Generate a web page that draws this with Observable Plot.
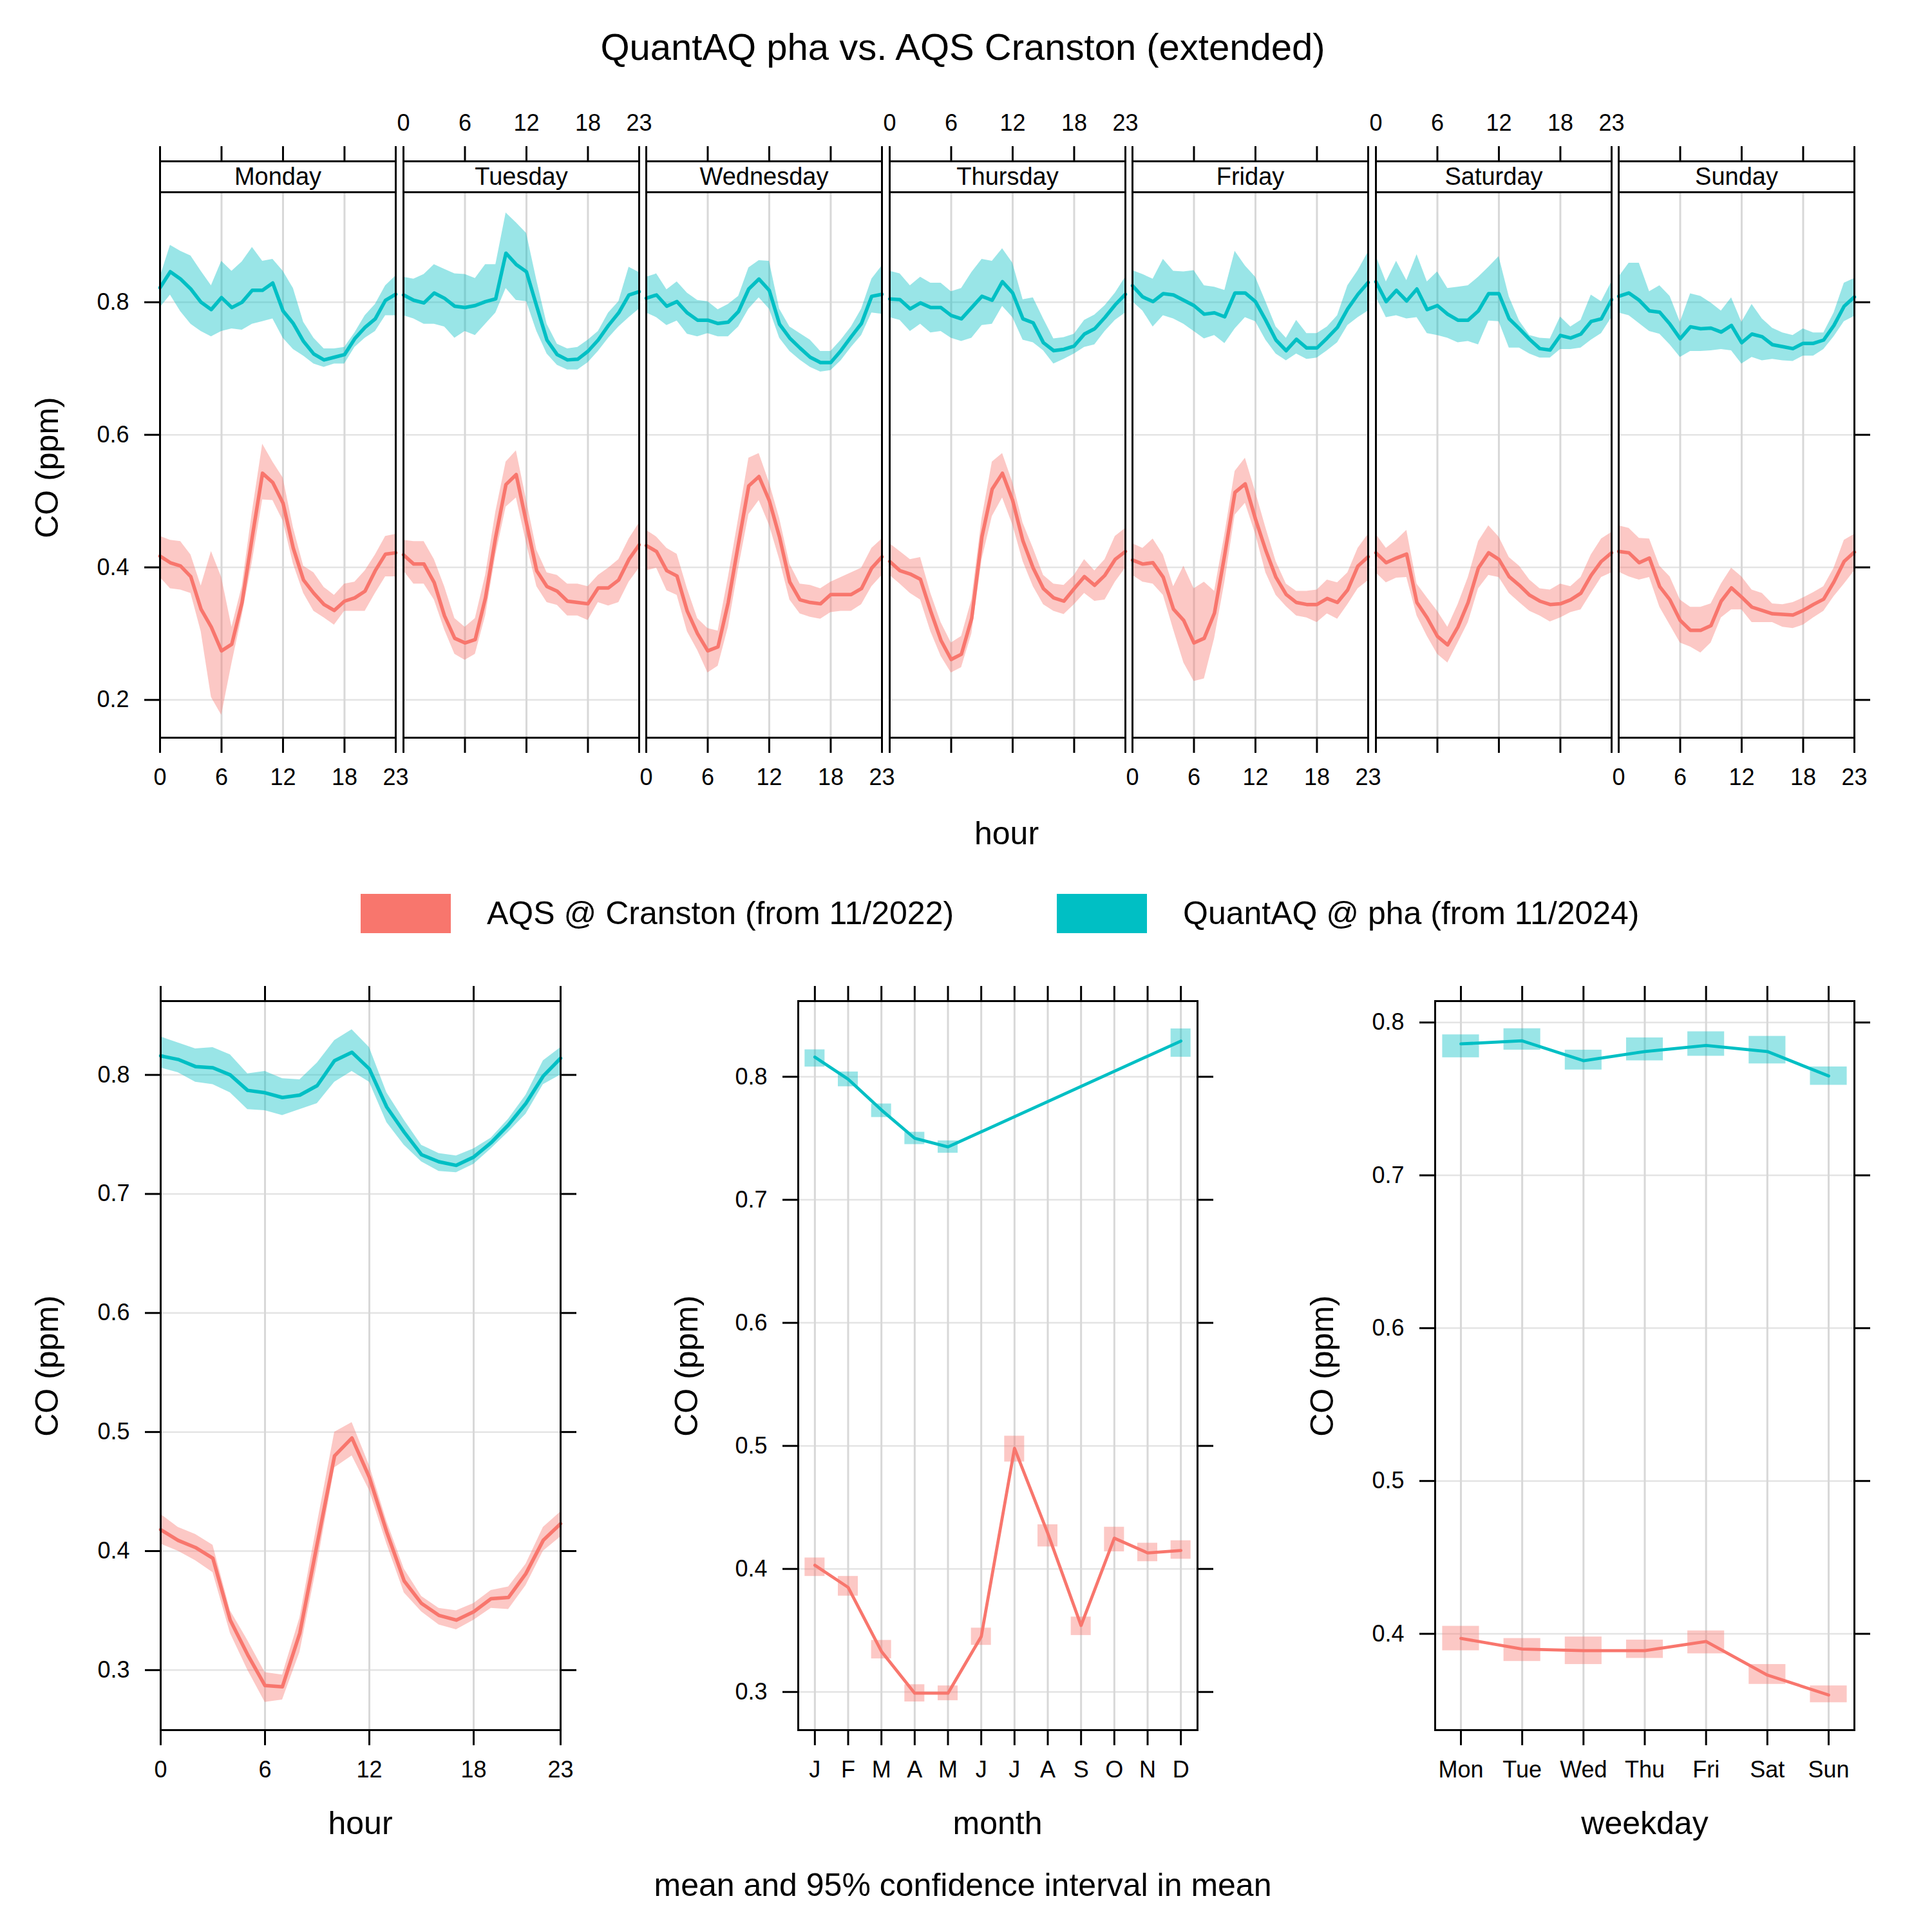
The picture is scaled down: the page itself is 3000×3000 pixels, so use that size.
<!DOCTYPE html>
<html>
<head>
<meta charset="utf-8">
<script src="https://cdn.jsdelivr.net/npm/d3@7"></script>
<script src="https://cdn.jsdelivr.net/npm/@observablehq/plot@0.6"></script>
<style>
  html, body { margin: 0; padding: 0; background: #ffffff; }
  #fig { position: relative; width: 3000px; height: 3000px; background: #ffffff; color: #000;
         font-family: "Liberation Sans", Arial, Helvetica, sans-serif; overflow: hidden; }
</style>
</head>
<body>
<div id="fig"></div>
<script>
// ---------------- DATA ----------------
const seriesNames = ["AQS @ Cranston (from 11/2022)", "QuantAQ @ pha (from 11/2024)"];
const titleText = "QuantAQ pha vs. AQS Cranston (extended)";
const captionText = "mean and 95% confidence interval in mean";
const dayNames = ["Monday", "Tuesday", "Wednesday", "Thursday", "Friday", "Saturday", "Sunday"];
const hours = [0,1,2,3,4,5,6,7,8,9,10,11,12,13,14,15,16,17,18,19,20,21,22,23];
const hourTicks = [0, 6, 12, 18, 23];
const hourGrid = [6, 12, 18];
const topYTicks = [0.2, 0.4, 0.6, 0.8];
const hourYTicks = [0.3, 0.4, 0.5, 0.6, 0.7, 0.8];
const monthYTicks = [0.3, 0.4, 0.5, 0.6, 0.7, 0.8];
const weekdayYTicks = [0.4, 0.5, 0.6, 0.7, 0.8];
const months = [1,2,3,4,5,6,7,8,9,10,11,12];
const monthLabels = ["J","F","M","A","M","J","J","A","S","O","N","D"];
const qaqMonths = [1,2,3,4,5,12];
const weekdays = [1,2,3,4,5,6,7];
const weekdayLabels = ["Mon","Tue","Wed","Thu","Fri","Sat","Sun"];

// Day x hour: AQS (red)
const aqsMonMean = [0.417,0.407,0.402,0.386,0.337,0.310,0.274,0.284,0.347,0.446,0.542,0.528,0.497,0.429,0.381,0.361,0.344,0.335,0.349,0.354,0.364,0.395,0.420,0.422];
const aqsMonHi   = [0.447,0.441,0.439,0.419,0.372,0.424,0.385,0.310,0.371,0.484,0.586,0.559,0.535,0.460,0.402,0.392,0.370,0.358,0.375,0.378,0.395,0.419,0.447,0.450];
const aqsMonLo   = [0.385,0.368,0.366,0.361,0.303,0.204,0.177,0.255,0.327,0.409,0.502,0.501,0.470,0.405,0.361,0.334,0.324,0.313,0.334,0.334,0.334,0.361,0.386,0.386];
const aqsTueMean = [0.419,0.405,0.405,0.377,0.327,0.293,0.286,0.291,0.354,0.446,0.525,0.540,0.467,0.395,0.371,0.364,0.349,0.347,0.345,0.369,0.369,0.381,0.412,0.434];
const aqsTueHi   = [0.441,0.439,0.439,0.412,0.371,0.323,0.310,0.323,0.388,0.484,0.559,0.576,0.501,0.426,0.392,0.388,0.375,0.375,0.371,0.388,0.399,0.412,0.443,0.467];
const aqsTueLo   = [0.395,0.375,0.375,0.351,0.306,0.269,0.260,0.269,0.327,0.419,0.491,0.505,0.436,0.371,0.347,0.343,0.327,0.327,0.320,0.347,0.342,0.347,0.378,0.399];
const aqsWedMean = [0.433,0.424,0.395,0.387,0.334,0.300,0.274,0.280,0.347,0.436,0.523,0.537,0.501,0.446,0.378,0.351,0.347,0.345,0.359,0.359,0.359,0.368,0.399,0.416];
const aqsWedHi   = [0.456,0.446,0.429,0.420,0.368,0.323,0.308,0.304,0.385,0.474,0.565,0.572,0.528,0.474,0.405,0.375,0.373,0.368,0.378,0.385,0.392,0.399,0.429,0.443];
const aqsWedLo   = [0.395,0.399,0.365,0.358,0.303,0.275,0.241,0.251,0.310,0.399,0.480,0.501,0.464,0.412,0.351,0.330,0.325,0.322,0.332,0.334,0.334,0.344,0.371,0.388];
const aqsThuMean = [0.409,0.395,0.390,0.382,0.334,0.290,0.261,0.269,0.323,0.446,0.518,0.542,0.501,0.440,0.399,0.368,0.354,0.349,0.368,0.386,0.373,0.388,0.412,0.424];
const aqsThuHi   = [0.436,0.424,0.412,0.415,0.361,0.317,0.286,0.296,0.351,0.474,0.559,0.572,0.528,0.467,0.429,0.388,0.375,0.373,0.388,0.412,0.395,0.412,0.447,0.459];
const aqsThuLo   = [0.388,0.375,0.361,0.351,0.303,0.266,0.241,0.249,0.300,0.412,0.477,0.505,0.464,0.409,0.371,0.344,0.334,0.329,0.344,0.361,0.349,0.351,0.378,0.399];
const aqsFriMean = [0.411,0.405,0.407,0.385,0.337,0.320,0.286,0.293,0.331,0.419,0.513,0.526,0.473,0.426,0.385,0.359,0.347,0.344,0.344,0.353,0.347,0.366,0.402,0.416];
const aqsFriHi   = [0.436,0.429,0.443,0.419,0.371,0.402,0.368,0.378,0.364,0.450,0.545,0.565,0.514,0.460,0.409,0.375,0.364,0.364,0.366,0.381,0.377,0.392,0.429,0.450];
const aqsFriLo   = [0.388,0.378,0.375,0.358,0.306,0.256,0.228,0.232,0.293,0.378,0.479,0.497,0.450,0.392,0.358,0.341,0.327,0.324,0.317,0.330,0.322,0.344,0.368,0.380];
const aqsSatMean = [0.422,0.407,0.414,0.420,0.347,0.324,0.296,0.283,0.310,0.347,0.399,0.422,0.412,0.386,0.373,0.358,0.349,0.344,0.345,0.351,0.361,0.388,0.409,0.422];
const aqsSatHi   = [0.450,0.429,0.441,0.456,0.375,0.354,0.334,0.310,0.344,0.385,0.439,0.463,0.446,0.415,0.402,0.381,0.368,0.366,0.375,0.371,0.385,0.419,0.443,0.453];
const aqsSatLo   = [0.392,0.377,0.384,0.385,0.327,0.296,0.269,0.256,0.286,0.317,0.368,0.388,0.385,0.361,0.347,0.334,0.327,0.318,0.324,0.332,0.336,0.361,0.385,0.392];
const aqsSunMean = [0.424,0.422,0.407,0.414,0.371,0.351,0.320,0.305,0.305,0.312,0.349,0.369,0.355,0.340,0.335,0.330,0.329,0.328,0.335,0.344,0.352,0.378,0.409,0.423];
const aqsSunHi   = [0.463,0.459,0.444,0.443,0.402,0.386,0.351,0.340,0.340,0.345,0.375,0.399,0.386,0.366,0.361,0.345,0.344,0.347,0.354,0.362,0.371,0.399,0.441,0.450];
const aqsSunLo   = [0.393,0.386,0.381,0.385,0.340,0.313,0.286,0.280,0.271,0.286,0.324,0.336,0.336,0.317,0.317,0.317,0.310,0.308,0.313,0.324,0.334,0.356,0.375,0.395];

// Day x hour: QuantAQ (teal)
const qaqMonMean = [0.822,0.846,0.835,0.820,0.800,0.789,0.807,0.792,0.800,0.818,0.818,0.829,0.787,0.768,0.741,0.722,0.713,0.717,0.721,0.745,0.762,0.775,0.803,0.812];
const qaqMonHi   = [0.838,0.886,0.877,0.870,0.847,0.825,0.862,0.847,0.861,0.883,0.862,0.865,0.847,0.821,0.770,0.746,0.730,0.730,0.732,0.754,0.780,0.797,0.825,0.840];
const qaqMonLo   = [0.792,0.811,0.786,0.767,0.756,0.748,0.756,0.760,0.758,0.767,0.771,0.775,0.746,0.729,0.719,0.707,0.702,0.707,0.707,0.732,0.746,0.756,0.780,0.780];
const qaqTueMean = [0.811,0.803,0.799,0.814,0.806,0.794,0.792,0.795,0.801,0.805,0.874,0.857,0.846,0.794,0.743,0.721,0.713,0.714,0.726,0.743,0.765,0.784,0.811,0.816];
const qaqTueHi   = [0.838,0.835,0.842,0.857,0.850,0.843,0.842,0.836,0.857,0.857,0.935,0.920,0.904,0.833,0.767,0.737,0.730,0.732,0.743,0.756,0.784,0.801,0.853,0.845];
const qaqTueLo   = [0.780,0.775,0.767,0.767,0.763,0.746,0.756,0.750,0.767,0.784,0.821,0.803,0.801,0.756,0.722,0.705,0.698,0.698,0.709,0.726,0.746,0.763,0.777,0.790];
const qaqWedMean = [0.806,0.811,0.794,0.801,0.784,0.773,0.773,0.768,0.770,0.786,0.820,0.835,0.818,0.767,0.746,0.731,0.717,0.709,0.709,0.727,0.748,0.768,0.809,0.812];
const qaqWedHi   = [0.838,0.843,0.819,0.831,0.814,0.803,0.801,0.789,0.797,0.809,0.852,0.863,0.862,0.790,0.763,0.753,0.743,0.726,0.726,0.743,0.763,0.790,0.835,0.855];
const qaqWedLo   = [0.784,0.777,0.765,0.772,0.752,0.748,0.753,0.748,0.748,0.763,0.790,0.807,0.790,0.746,0.726,0.713,0.702,0.695,0.697,0.712,0.732,0.750,0.784,0.782];
const qaqThuMean = [0.805,0.804,0.790,0.799,0.792,0.792,0.780,0.775,0.792,0.809,0.803,0.831,0.814,0.775,0.769,0.739,0.727,0.729,0.734,0.752,0.760,0.777,0.796,0.812];
const qaqThuHi   = [0.847,0.843,0.825,0.838,0.829,0.829,0.816,0.821,0.845,0.865,0.862,0.881,0.859,0.804,0.807,0.775,0.745,0.747,0.752,0.773,0.781,0.795,0.814,0.838];
const qaqThuLo   = [0.777,0.773,0.756,0.767,0.754,0.756,0.746,0.741,0.746,0.765,0.767,0.794,0.777,0.743,0.739,0.727,0.707,0.714,0.722,0.732,0.736,0.756,0.773,0.784];
const qaqFriMean = [0.825,0.808,0.801,0.813,0.811,0.803,0.795,0.782,0.784,0.778,0.814,0.814,0.801,0.773,0.743,0.727,0.744,0.731,0.731,0.746,0.762,0.790,0.812,0.830];
const qaqFriHi   = [0.848,0.842,0.835,0.865,0.847,0.846,0.848,0.825,0.823,0.818,0.877,0.855,0.838,0.801,0.763,0.746,0.773,0.753,0.753,0.763,0.780,0.825,0.848,0.876];
const qaqFriLo   = [0.801,0.787,0.763,0.780,0.775,0.767,0.756,0.745,0.750,0.738,0.760,0.777,0.771,0.743,0.722,0.712,0.722,0.714,0.716,0.727,0.739,0.765,0.777,0.787];
const qaqSatMean = [0.831,0.801,0.818,0.802,0.820,0.789,0.795,0.782,0.773,0.773,0.787,0.813,0.813,0.775,0.760,0.744,0.730,0.728,0.750,0.746,0.752,0.771,0.775,0.804];
const qaqSatHi   = [0.870,0.831,0.862,0.833,0.872,0.831,0.846,0.821,0.823,0.825,0.838,0.853,0.869,0.808,0.772,0.750,0.746,0.745,0.778,0.763,0.773,0.811,0.801,0.831];
const qaqSatLo   = [0.808,0.777,0.780,0.775,0.777,0.753,0.750,0.746,0.739,0.741,0.736,0.772,0.771,0.731,0.731,0.722,0.716,0.716,0.729,0.729,0.731,0.743,0.753,0.777];
const qaqSunMean = [0.809,0.814,0.803,0.787,0.785,0.767,0.745,0.763,0.760,0.761,0.755,0.765,0.739,0.752,0.748,0.736,0.733,0.730,0.738,0.738,0.743,0.765,0.794,0.808];
const qaqSunHi   = [0.838,0.859,0.859,0.816,0.825,0.809,0.770,0.813,0.809,0.799,0.787,0.807,0.770,0.797,0.775,0.761,0.754,0.750,0.760,0.754,0.754,0.784,0.829,0.836];
const qaqSunLo   = [0.784,0.780,0.768,0.756,0.752,0.736,0.717,0.726,0.726,0.727,0.729,0.727,0.707,0.717,0.712,0.714,0.712,0.711,0.719,0.719,0.729,0.748,0.771,0.779];

// Hour (all days)
const aqsHourMean = [0.418,0.409,0.403,0.394,0.342,0.313,0.287,0.286,0.331,0.406,0.480,0.495,0.462,0.416,0.375,0.356,0.346,0.342,0.349,0.360,0.361,0.381,0.409,0.423];
const aqsHourHi   = [0.431,0.420,0.414,0.405,0.350,0.325,0.298,0.296,0.344,0.423,0.500,0.508,0.472,0.425,0.385,0.362,0.352,0.350,0.356,0.367,0.370,0.389,0.420,0.433];
const aqsHourLo   = [0.406,0.400,0.392,0.382,0.331,0.300,0.273,0.275,0.315,0.389,0.470,0.480,0.451,0.406,0.365,0.349,0.338,0.334,0.342,0.352,0.351,0.371,0.400,0.412];
const qaqHourMean = [0.816,0.813,0.807,0.806,0.800,0.787,0.785,0.781,0.783,0.791,0.812,0.819,0.805,0.773,0.752,0.733,0.727,0.724,0.731,0.743,0.758,0.776,0.799,0.814];
const qaqHourHi   = [0.832,0.827,0.822,0.823,0.817,0.801,0.803,0.797,0.796,0.810,0.829,0.838,0.823,0.785,0.762,0.741,0.734,0.732,0.738,0.747,0.763,0.783,0.812,0.823];
const qaqHourLo   = [0.806,0.802,0.794,0.792,0.785,0.771,0.770,0.766,0.771,0.776,0.794,0.803,0.794,0.760,0.741,0.727,0.719,0.718,0.725,0.738,0.752,0.767,0.792,0.800];

// Month
const aqsMonthMean = [0.403,0.385,0.333,0.299,0.299,0.345,0.498,0.429,0.354,0.425,0.413,0.415];
const aqsMonthHi   = [0.409,0.394,0.342,0.306,0.305,0.352,0.508,0.436,0.361,0.434,0.421,0.423];
const aqsMonthLo   = [0.394,0.378,0.327,0.292,0.293,0.338,0.487,0.418,0.346,0.414,0.406,0.408];
const qaqMonthMean = [0.816,0.798,0.773,0.750,0.743,0.829];
const qaqMonthHi   = [0.822,0.804,0.778,0.755,0.748,0.839];
const qaqMonthLo   = [0.808,0.792,0.767,0.745,0.738,0.816];

// Weekday
const aqsWdayMean = [0.397,0.390,0.389,0.389,0.395,0.373,0.360];
const aqsWdayHi   = [0.405,0.397,0.398,0.396,0.402,0.380,0.366];
const aqsWdayLo   = [0.389,0.382,0.380,0.384,0.387,0.367,0.355];
const qaqWdayMean = [0.786,0.788,0.775,0.781,0.785,0.781,0.765];
const qaqWdayHi   = [0.792,0.796,0.782,0.790,0.794,0.791,0.771];
const qaqWdayLo   = [0.777,0.782,0.769,0.775,0.778,0.773,0.759];

const aqsDays = [
  [aqsMonMean, aqsMonLo, aqsMonHi], [aqsTueMean, aqsTueLo, aqsTueHi], [aqsWedMean, aqsWedLo, aqsWedHi],
  [aqsThuMean, aqsThuLo, aqsThuHi], [aqsFriMean, aqsFriLo, aqsFriHi], [aqsSatMean, aqsSatLo, aqsSatHi],
  [aqsSunMean, aqsSunLo, aqsSunHi]];
const qaqDays = [
  [qaqMonMean, qaqMonLo, qaqMonHi], [qaqTueMean, qaqTueLo, qaqTueHi], [qaqWedMean, qaqWedLo, qaqWedHi],
  [qaqThuMean, qaqThuLo, qaqThuHi], [qaqFriMean, qaqFriLo, qaqFriHi], [qaqSatMean, qaqSatLo, qaqSatHi],
  [qaqSunMean, qaqSunLo, qaqSunHi]];

// ---------------- STYLE / LAYOUT ----------------
const RED = "#F8766D", TEAL = "#00BFC4";
const FONT = '"Liberation Sans", Arial, Helvetica, sans-serif';
const fig = document.getElementById("fig");
const fmt1 = d3.format(".1f");
const axisOpts = {tickSize: 24, tickPadding: 24, strokeWidth: 3, fontSize: 36, label: null};
const hGridStyle = {stroke: "#e4e4e4", strokeWidth: 2.5};
const vGridStyle = {stroke: "#d8d8d8", strokeWidth: 3};
const svgStyle = {background: "transparent", overflow: "visible", fontFamily: FONT, fontSize: "36px", color: "black"};

function rows(mean, lo, hi, xs) {
  return xs.map((x, k) => ({x, mean: mean[k], lo: lo[k], hi: hi[k]}));
}
function put(svg, left, top) {
  svg.style.position = "absolute";
  svg.style.left = left + "px";
  svg.style.top = top + "px";
  svg.style.maxWidth = "none";
  svg.style.overflow = "visible";
  svg.style.background = "transparent";
  fig.appendChild(svg);
}
function label(text, x, y, size, rotate) {
  const d = document.createElement("div");
  d.textContent = text;
  d.style.cssText = `position:absolute;left:${x}px;top:${y}px;font-size:${size}px;line-height:1;white-space:nowrap;` +
    `transform:translate(-50%,-50%)${rotate ? ` rotate(${rotate}deg)` : ""};`;
  fig.appendChild(d);
}
function box(x, y, w, h, color) {
  const d = document.createElement("div");
  d.style.cssText = `position:absolute;left:${x}px;top:${y}px;width:${w}px;height:${h}px;background:${color};`;
  fig.appendChild(d);
}

// ---------------- TOP: day x hour panels ----------------
const dayLeft0 = 248, dayStep = 377.5, dayW = 366;
const topFrameTop = 250, stripPx = 48, dataPx = 847;
const topYmin = 0.143, topYmax = 0.966;
const topYdomTop = topYmax + (topYmax - topYmin) * stripPx / dataPx;

dayNames.forEach((name, i) => {
  const left = Math.round(dayLeft0 + i * dayStep);
  const mL = 130, mR = 40, mT = 90, mB = 100;
  const aqs = rows(aqsDays[i][0], aqsDays[i][1], aqsDays[i][2], hours);
  const qaq = rows(qaqDays[i][0], qaqDays[i][1], qaqDays[i][2], hours);
  const marks = [
    Plot.ruleY(topYTicks, hGridStyle),
    Plot.ruleX(hourGrid, {y1: () => topYmin, y2: () => topYmax, ...vGridStyle}),
    Plot.area(aqs, {x1: "x", y1: "lo", y2: "hi", fill: RED, fillOpacity: 0.4}),
    Plot.area(qaq, {x1: "x", y1: "lo", y2: "hi", fill: TEAL, fillOpacity: 0.4}),
    Plot.line(aqs, {x: "x", y: "mean", stroke: RED, strokeWidth: 5.5}),
    Plot.line(qaq, {x: "x", y: "mean", stroke: TEAL, strokeWidth: 5.5}),
    Plot.ruleY([topYmax], {stroke: "black", strokeWidth: 3}),
    Plot.frame({stroke: "black", strokeWidth: 3}),
    Plot.text([name], {x: () => 11.5, y: () => (topYmax + topYdomTop) / 2, text: d => d,
      fontSize: 38, lineAnchor: "middle", fill: "black"}),
    Plot.axisX(hourTicks, {anchor: "top", tickFormat: i % 2 === 1 ? (d => String(d)) : (() => ""), ...axisOpts}),
    Plot.axisX(hourTicks, {anchor: "bottom", tickFormat: i % 2 === 0 ? (d => String(d)) : (() => ""), ...axisOpts})
  ];
  if (i === 0) marks.push(Plot.axisY(topYTicks, {anchor: "left", tickFormat: fmt1, ...axisOpts}));
  if (i === 6) marks.push(Plot.axisY(topYTicks, {anchor: "right", tickFormat: () => "", ...axisOpts}));
  const svg = Plot.plot({
    width: dayW + mL + mR, height: stripPx + dataPx + mT + mB,
    marginLeft: mL, marginRight: mR, marginTop: mT, marginBottom: mB,
    x: {domain: [0, 23], axis: null, label: null},
    y: {domain: [topYmin, topYdomTop], axis: null, label: null},
    style: svgStyle,
    marks
  });
  put(svg, left - mL, topFrameTop - mT);
});

// ---------------- BOTTOM panels ----------------
const botTop = 1554, botH = 1132;
function bottomPanel({left, width, xDomain, yDomain, yTicks, xTicks, xFormat, xGrid, marks}) {
  const mL = 130, mR = 40, mT = 40, mB = 100;
  const all = [
    Plot.ruleY(yTicks, hGridStyle),
    Plot.ruleX(xGrid, vGridStyle),
    ...marks,
    Plot.frame({stroke: "black", strokeWidth: 3}),
    Plot.axisX(xTicks, {anchor: "bottom", tickFormat: xFormat, ...axisOpts}),
    Plot.axisX(xTicks, {anchor: "top", tickFormat: () => "", ...axisOpts}),
    Plot.axisY(yTicks, {anchor: "left", tickFormat: fmt1, ...axisOpts}),
    Plot.axisY(yTicks, {anchor: "right", tickFormat: () => "", ...axisOpts})
  ];
  const svg = Plot.plot({
    width: width + mL + mR, height: botH + mT + mB,
    marginLeft: mL, marginRight: mR, marginTop: mT, marginBottom: mB,
    x: {domain: xDomain, axis: null, label: null},
    y: {domain: yDomain, axis: null, label: null},
    style: svgStyle,
    marks: all
  });
  put(svg, left - mL, botTop - mT);
}

// hour
{
  const aqs = rows(aqsHourMean, aqsHourLo, aqsHourHi, hours);
  const qaq = rows(qaqHourMean, qaqHourLo, qaqHourHi, hours);
  bottomPanel({
    left: 249, width: 621, xDomain: [0, 23], yDomain: [0.2496, 0.862],
    yTicks: hourYTicks, xTicks: hourTicks, xFormat: d => String(d), xGrid: hourGrid,
    marks: [
      Plot.area(aqs, {x1: "x", y1: "lo", y2: "hi", fill: RED, fillOpacity: 0.4}),
      Plot.area(qaq, {x1: "x", y1: "lo", y2: "hi", fill: TEAL, fillOpacity: 0.4}),
      Plot.line(aqs, {x: "x", y: "mean", stroke: RED, strokeWidth: 5.5}),
      Plot.line(qaq, {x: "x", y: "mean", stroke: TEAL, strokeWidth: 5.5})
    ]
  });
}
// month
{
  const half = 0.3;
  const aqs = rows(aqsMonthMean, aqsMonthLo, aqsMonthHi, months);
  const qaq = rows(qaqMonthMean, qaqMonthLo, qaqMonthHi, qaqMonths);
  bottomPanel({
    left: 1239, width: 620, xDomain: [0.5, 12.5], yDomain: [0.269, 0.8615],
    yTicks: monthYTicks, xTicks: months, xFormat: d => monthLabels[d - 1], xGrid: months,
    marks: [
      Plot.rect(aqs, {x1: d => d.x - half, x2: d => d.x + half, y1: "lo", y2: "hi", fill: RED, fillOpacity: 0.4}),
      Plot.rect(qaq, {x1: d => d.x - half, x2: d => d.x + half, y1: "lo", y2: "hi", fill: TEAL, fillOpacity: 0.4}),
      Plot.line(aqs, {x: "x", y: "mean", stroke: RED, strokeWidth: 4.8}),
      Plot.line(qaq, {x: "x", y: "mean", stroke: TEAL, strokeWidth: 4.8})
    ]
  });
}
// weekday
{
  const half = 0.3;
  const aqs = rows(aqsWdayMean, aqsWdayLo, aqsWdayHi, weekdays);
  const qaq = rows(qaqWdayMean, qaqWdayLo, qaqWdayHi, weekdays);
  bottomPanel({
    left: 2228, width: 651, xDomain: [0.58, 7.42], yDomain: [0.337, 0.814],
    yTicks: weekdayYTicks, xTicks: weekdays, xFormat: d => weekdayLabels[d - 1], xGrid: weekdays,
    marks: [
      Plot.rect(aqs, {x1: d => d.x - half, x2: d => d.x + half, y1: "lo", y2: "hi", fill: RED, fillOpacity: 0.4}),
      Plot.rect(qaq, {x1: d => d.x - half, x2: d => d.x + half, y1: "lo", y2: "hi", fill: TEAL, fillOpacity: 0.4}),
      Plot.line(aqs, {x: "x", y: "mean", stroke: RED, strokeWidth: 4.8}),
      Plot.line(qaq, {x: "x", y: "mean", stroke: TEAL, strokeWidth: 4.8})
    ]
  });
}

// ---------------- TEXT: title, labels, legend, caption ----------------
label(titleText, 1495, 73, 58);
label("CO (ppm)", 73, 726, 50, -90);
label("hour", 1563, 1294, 50);
box(560, 1388, 140, 61, RED);
box(1641, 1388, 140, 61, TEAL);
{
  const t1 = document.createElement("div");
  t1.textContent = seriesNames[0];
  t1.style.cssText = "position:absolute;left:756px;top:1418px;font-size:50px;line-height:1;white-space:nowrap;transform:translateY(-50%);";
  fig.appendChild(t1);
  const t2 = document.createElement("div");
  t2.textContent = seriesNames[1];
  t2.style.cssText = "position:absolute;left:1837px;top:1418px;font-size:50px;line-height:1;white-space:nowrap;transform:translateY(-50%);";
  fig.appendChild(t2);
}
label("CO (ppm)", 73, 2121, 50, -90);
label("CO (ppm)", 1066, 2121, 50, -90);
label("CO (ppm)", 2053, 2121, 50, -90);
label("hour", 559.5, 2831, 50);
label("month", 1549, 2831, 50);
label("weekday", 2554, 2831, 50);
label(captionText, 1495, 2927, 50);
</script>
</body>
</html>
